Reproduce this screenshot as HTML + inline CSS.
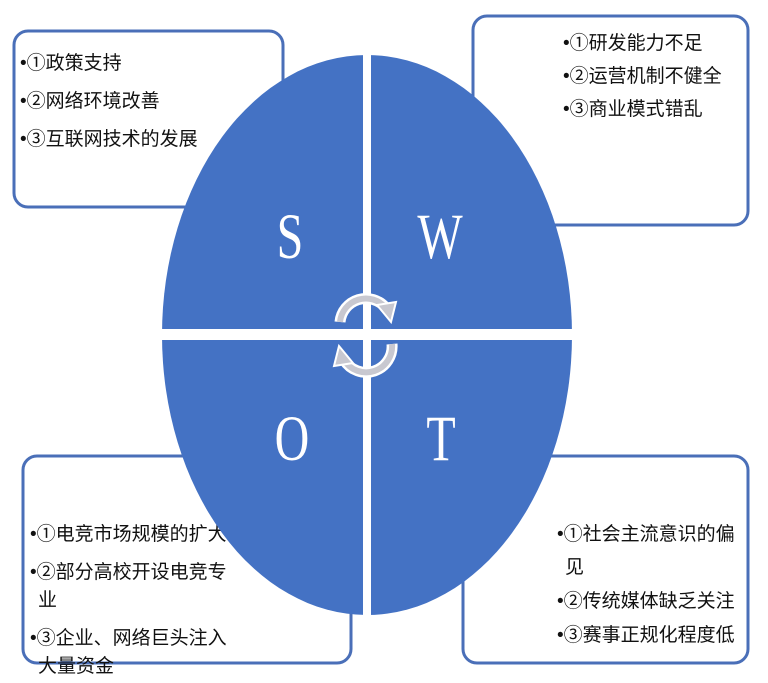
<!DOCTYPE html>
<html><head><meta charset="utf-8"><style>
html,body{margin:0;padding:0;background:#fff;}
svg{display:block;}
.t{font-family:"Liberation Sans","Noto Sans CJK SC",sans-serif;font-size:19px;fill:#111;}
.L{font-family:"Liberation Serif",serif;font-size:48px;fill:#fff;}
</style></head><body>
<svg width="768" height="683" viewBox="0 0 768 683" xmlns="http://www.w3.org/2000/svg">
<g fill="#fff" stroke="#4a6fb8" stroke-width="3">
<rect x="14" y="31" width="269" height="176" rx="14"/>
<rect x="473" y="16" width="275" height="209" rx="14"/>
<rect x="23" y="456" width="328" height="207" rx="14"/>
<rect x="463" y="456" width="285" height="207" rx="14"/>
</g>
<g class="t">
<text x="20" y="69">•①政策支持</text>
<text x="20" y="107">•②网络环境改善</text>
<text x="20" y="145">•③互联网技术的发展</text>
<text x="563" y="49">•①研发能力不足</text>
<text x="563" y="82">•②运营机制不健全</text>
<text x="563" y="115">•③商业模式错乱</text>
<text x="30" y="540">•①电竞市场规模的扩大</text>
<text x="30" y="578">•②部分高校开设电竞专</text>
<text x="38" y="606">业</text>
<text x="30" y="644">•③企业、网络巨头注入</text>
<text x="38" y="672">大量资金</text>
<text x="557" y="540">•①社会主流意识的偏</text>
<text x="565" y="573">见</text>
<text x="557" y="607">•②传统媒体缺乏关注</text>
<text x="557" y="641">•③赛事正规化程度低</text>
</g>
<ellipse cx="367" cy="335" rx="205" ry="280" fill="#4472c4"/>
<rect x="363" y="50" width="8" height="570" fill="#fff"/>
<rect x="158" y="329" width="420" height="11" fill="#fff"/>
<text class="L" text-anchor="middle" transform="translate(290,258) scale(1,1.35)">S</text>
<text class="L" text-anchor="middle" transform="translate(440,258) scale(1,1.35)">W</text>
<text class="L" text-anchor="middle" transform="translate(292,460) scale(1,1.35)">O</text>
<text class="L" text-anchor="middle" transform="translate(441,460) scale(1,1.35)">T</text>
<g fill="none" stroke-linecap="butt">
<path d="M340 322 A26 26 0 0 1 386 308" stroke="#fff" stroke-width="11"/>
<path d="M340 322 A26 26 0 0 1 386 308" stroke="#c8c8d0" stroke-width="6"/>
<path d="M392 344 A26 26 0 0 1 344 360" stroke="#fff" stroke-width="11"/>
<path d="M392 344 A26 26 0 0 1 344 360" stroke="#c8c8d0" stroke-width="6"/>
</g>
<polygon points="377,305 396,302 391,322" fill="#c8c8d0" stroke="#fff" stroke-width="2"/>
<polygon points="353,363 334,366 339,346" fill="#c8c8d0" stroke="#fff" stroke-width="2"/>
</svg>
</body></html>
